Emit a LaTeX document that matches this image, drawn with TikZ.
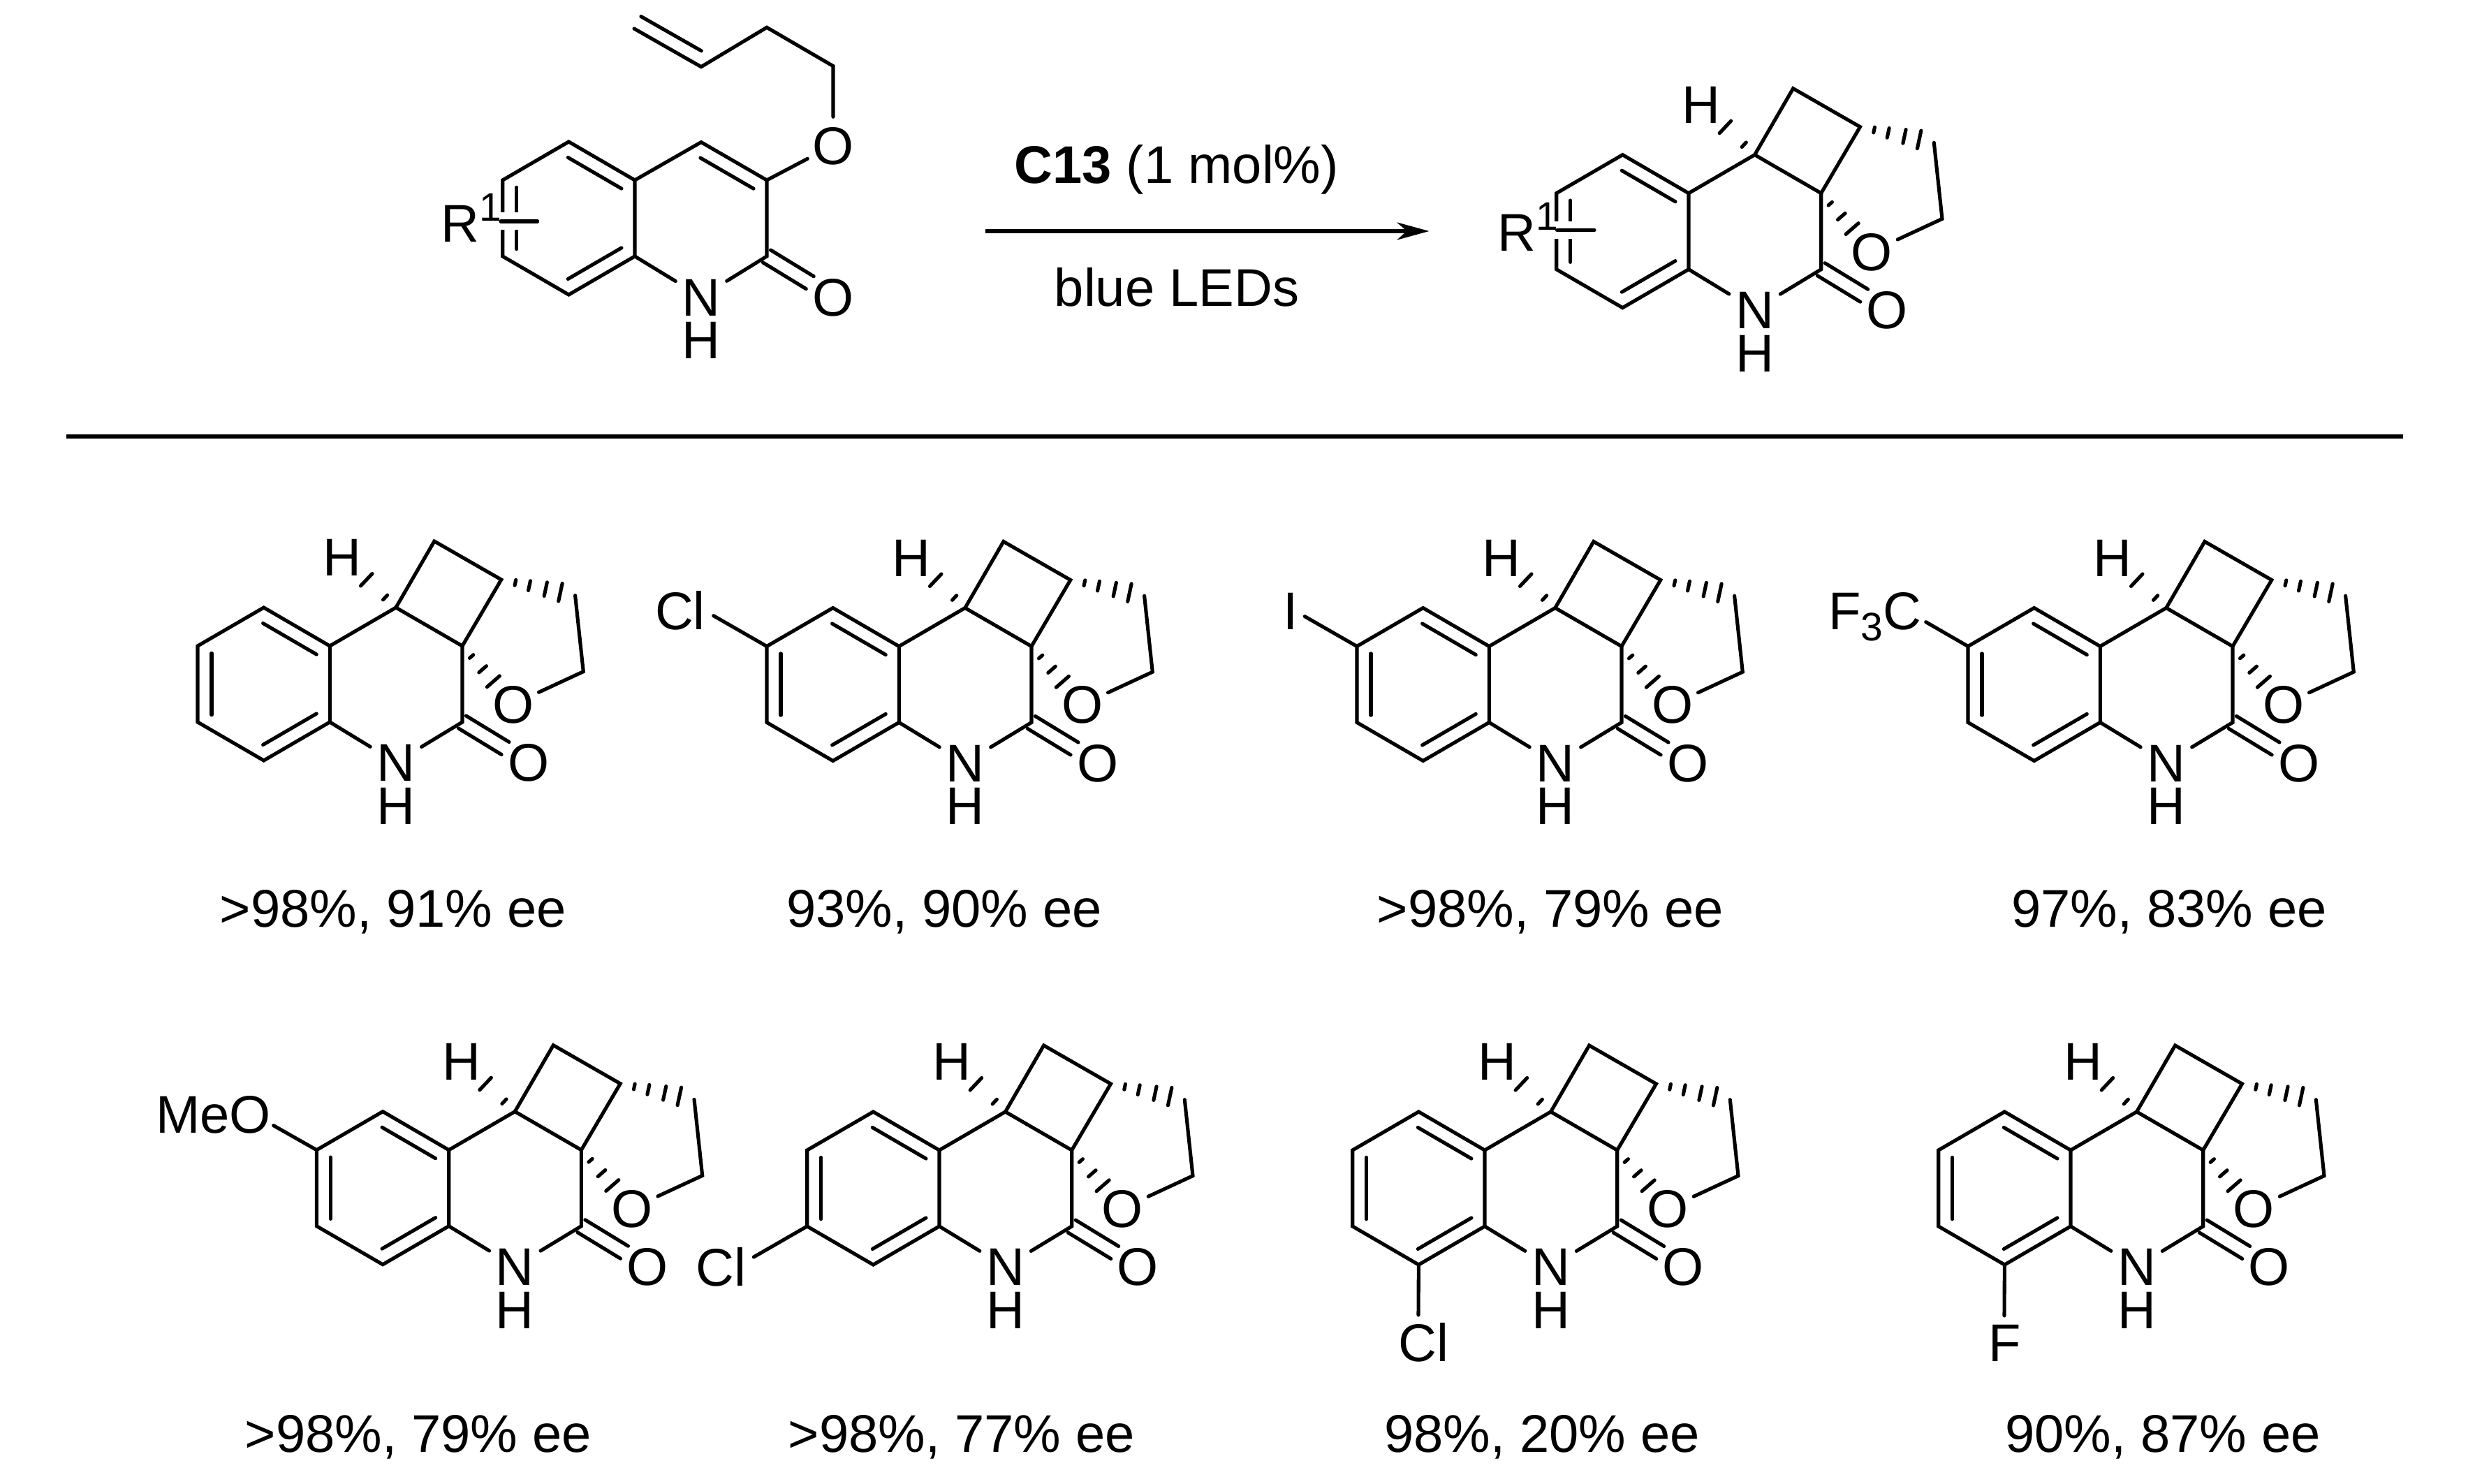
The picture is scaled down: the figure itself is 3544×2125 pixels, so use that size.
\documentclass[tikz,border=0pt]{standalone}
\usepackage{fontspec}
\setmainfont{Liberation Sans}
\usetikzlibrary{calc}
\usetikzlibrary{arrows.meta}

\newcommand{\chemfont}{\fontsize{21.6}{25}\selectfont}
\newcommand{\digfont}{\fontsize{16.2}{18}\selectfont}
\newcommand{\supdig}[1]{\raisebox{0.30cm}{\digfont #1}}
\newcommand{\subdig}[1]{\raisebox{-0.16cm}{\digfont #1}}

% inner line of a double bond, on the left of a -> b
\newcommand{\inbond}[2]{\draw [bond] ($(#1)!0.095!(#2)!0.2cm!90:(#2)$) -- ($(#1)!0.905!(#2)!0.2cm!90:(#2)$);}
% C=O, two lines either side of the axis
\newcommand{\keto}[2]{
  \draw [bond] ($(#1)!0.105cm!90:(#2)$) -- ($(#1)!0.65!(#2)!0.105cm!90:(#2)$);
  \draw [bond] ($(#1)!0.105cm!-90:(#2)$) -- ($(#1)!0.65!(#2)!0.105cm!-90:(#2)$);
}
% one stroke of a hashed bond
\newcommand{\hashline}[4]{\draw [bond] ($(#1)!#3!(#2)!#4!90:(#2)$) -- ($(#1)!#3!(#2)!#4!-90:(#2)$);}

% benzo ring, first vertex at (#2,#3)
\newcommand{\benzo}[3]{
  \begin{scope}[shift={(#2,#3)}]
    \coordinate (#1a1) at (0,0);
    \coordinate (#1a2) at (0,-109);
    \coordinate (#1a3) at (-94.6,-164);
    \coordinate (#1a4) at (-189.3,-109);
    \coordinate (#1a5) at (-189.3,0);
    \coordinate (#1a6) at (-94.6,55);
  \end{scope}
  \draw [bond] (#1a1) -- (#1a2) -- (#1a3) -- (#1a4) -- (#1a5) -- (#1a6) -- cycle;
  \inbond{#1a1}{#1a6}
  \inbond{#1a5}{#1a4}
  \inbond{#1a3}{#1a2}
}
% the tetracyclic lactam on a benzo ring
\newcommand{\lactam}[3]{
  \benzo{#1}{#2}{#3}
  \begin{scope}[shift={(#2,#3)}]
    \coordinate (#1c4) at (94.6,55);
    \coordinate (#1c3) at (189.7,0);
    \coordinate (#1c2) at (189.7,-109);
    \coordinate (#1b1) at (149.6,150);
    \coordinate (#1b2) at (245.5,95);
    \coordinate (#1t1) at (351.3,72.3);
    \coordinate (#1t2) at (363,-36.7);
    \node [amine] (#1n) at (94.6,-166.7) {N};
    \node (#1nh) at (94.6,-228.3) {H};
    \node (#1ok) at (284.4,-166.7) {O};
    \node [atom] (#1or) at (262.5,-83.3) {O};
    \node (#1h) at (17.9,127.3) {H};
  \end{scope}
  \draw [bond] (#1a1) -- (#1c4) -- (#1c3) -- (#1c2) -- (#1n);
  \draw [bond] (#1a2) -- (#1n);
  \draw [bond] (#1c4) -- (#1b1) -- (#1b2) -- (#1c3);
  \draw [bond] (#1t1) -- (#1t2) -- (#1or);
  \keto{#1c2}{#1ok}
  \hashline{#1c4}{#1h}{0.2}{0.045cm}
  \hashline{#1c4}{#1h}{0.55}{0.12cm}
  \hashline{#1c3}{#1or}{0.18}{0.035cm}
  \hashline{#1c3}{#1or}{0.40}{0.07cm}
  \hashline{#1c3}{#1or}{0.61}{0.12cm}
  \hashline{#1b2}{#1t1}{0.19}{0.04cm}
  \hashline{#1b2}{#1t1}{0.38}{0.07cm}
  \hashline{#1b2}{#1t1}{0.60}{0.10cm}
  \hashline{#1b2}{#1t1}{0.80}{0.13cm}
}

\begin{document}
\begin{tikzpicture}[x=0.01cm,y=0.01cm]
  \tikzstyle{every node}+=[inner sep=0pt,font=\chemfont,text height=0.54cm,text depth=0pt]
  \tikzstyle{atom}=[rectangle,minimum width=0.72cm,minimum height=0.8cm]
  \tikzstyle{amine}=[rectangle,minimum width=0.72cm]
  \tikzstyle{bond}=[black,line width=0.051cm,line cap=round]
  \tikzstyle{gap}=[white,line width=0.25cm,shorten <=-0.1cm]
  \useasboundingbox (0,0) rectangle (3544,-2125);

  % starting material
  \benzo{r}{909}{-258}
  \coordinate (rc4) at (1004,-203.6);
  \coordinate (rc3) at (1098,-258);
  \coordinate (rc2) at (1098,-367);
  \coordinate (rch2) at (1193,-94.6);
  \coordinate (rch) at (1098,-39.3);
  \coordinate (rcv) at (1004,-95.7);
  \coordinate (rvt) at (908,-41);
  \node [amine] (rn) at (1004,-425) {N};
  \node (rnh) at (1004,-486) {H};
  \node (rok) at (1193,-425) {O};
  \node [atom] (roe) at (1193,-208) {O};
  \draw [bond] (ra1) -- (rc4) -- (rc3) -- (rc2) -- (rn);
  \draw [bond] (ra2) -- (rn);
  \draw [bond] (rc3) -- (roe);
  \draw [bond] (roe) -- (rch2) -- (rch) -- (rcv) -- (rvt);
  \draw [bond] ($(rvt)!0.2cm!90:(rcv)$) -- ($(rvt)!0.9!(rcv)!0.2cm!90:(rcv)$);
  \inbond{rc3}{rc4}
  \keto{rc2}{rok}
  \coordinate (rrb1) at (717,-317);
  \coordinate (rrb2) at (769.6,-317);
  \draw [gap] (rrb1) -- (rrb2);
  \draw [bond] (rrb1) -- (rrb2);
  \node [anchor=base west] (rr) at (631,-347) {R\supdig{1}};

  % arrow
  \coordinate (arrowl) at (1411,-331);
  \coordinate (arrowr) at (2046.5,-331);
  \draw [black,line width=0.051cm,-{Stealth[length=0.46cm,width=0.25cm,inset=0.14cm]}] (arrowl) -- (arrowr);
  \node (cat) at (1684.7,-235) {\textbf{C13} (1 mol\%)};
  \node (led) at (1685,-411) {blue LEDs};

  % product
  \lactam{t}{2418}{-276.7}
  \coordinate (trb1) at (2229.5,-329.5);
  \coordinate (trb2) at (2283,-329.5);
  \draw [gap] (trb1) -- (trb2);
  \draw [bond] (trb1) -- (trb2);
  \node [anchor=base west] (tr) at (2144,-360) {R\supdig{1}};

  % rule
  \coordinate (rulel) at (95,-625);
  \coordinate (ruler) at (3441,-625);
  \draw [black,line width=0.051cm] (rulel) -- (ruler);

  % first row
  \lactam{p}{472.3}{-925}
  \node (py) at (563,-1300) {>98\%, 91\% ee};

  \lactam{q}{1287.3}{-925.5}
  \node (qcl) at (974,-874) {Cl};
  \coordinate (qs) at (1021.7,-881.7);
  \draw [bond] (qa5) -- (qs);
  \node (qy) at (1352,-1300) {93\%, 90\% ee};

  \lactam{u}{2132.3}{-925.5}
  \node (ui) at (1847.7,-874) {I};
  \coordinate (us) at (1868.3,-882.7);
  \draw [bond] (ua5) -- (us);
  \node (uy) at (2220,-1300) {>98\%, 79\% ee};

  \lactam{v}{3007.3}{-925.5}
  \node (vcf) at (2685,-874) {F\subdig{3}C};
  \coordinate (vs) at (2757.7,-890.7);
  \draw [bond] (va5) -- (vs);
  \node (vy) at (3106,-1300) {97\%, 83\% ee};

  % second row
  \lactam{w}{642.7}{-1646.7}
  \node (wme) at (305.7,-1595) {MeO};
  \coordinate (ws) at (391.7,-1611.7);
  \draw [bond] (wa5) -- (ws);
  \node (wy) at (599,-2052) {>98\%, 79\% ee};

  \lactam{x}{1345}{-1647}
  \node (xcl) at (1032.7,-1814) {Cl};
  \coordinate (xs) at (1079.3,-1800);
  \draw [bond] (xa4) -- (xs);
  \node (xy) at (1377,-2052) {>98\%, 77\% ee};

  \lactam{y}{2126}{-1647}
  \node (ycl) at (2038.3,-1922.7) {Cl};
  \coordinate (ys) at (2031,-1883);
  \draw [bond] (ya3) -- (ys);
  \node (yy) at (2208,-2052) {98\%, 20\% ee};

  \lactam{z}{2965}{-1647}
  \node (zf) at (2871,-1922.7) {F};
  \coordinate (zs) at (2870,-1884);
  \draw [bond] (za3) -- (zs);
  \node (zy) at (3097,-2052) {90\%, 87\% ee};
\end{tikzpicture}
\end{document}
